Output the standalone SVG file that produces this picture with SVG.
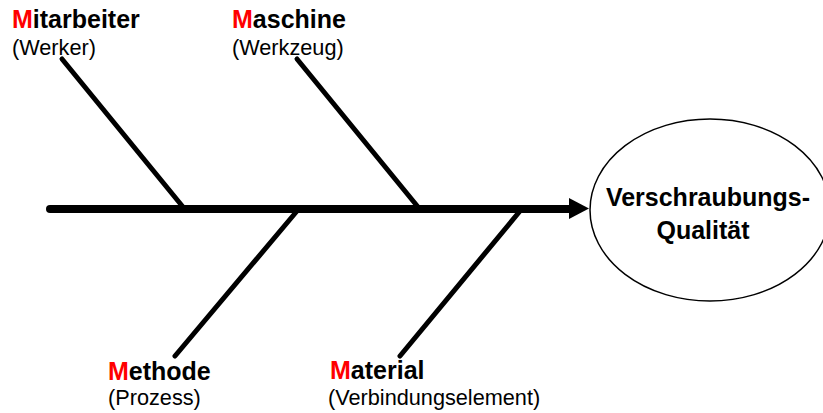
<svg xmlns="http://www.w3.org/2000/svg" width="823" height="413" viewBox="0 0 823 413">
<style>
.t{font-family:"Liberation Sans",Arial,sans-serif;fill:#000}
.b{font-weight:bold;font-size:25px}
.r{font-size:21.7px}
.m{fill:#ff0000}
.bone{stroke:#000;stroke-width:5;stroke-linecap:round;fill:none}
</style>
<rect width="823" height="413" fill="#fff"/>
<g id="connectors">
<line x1="50" y1="209" x2="572" y2="209" stroke="#000" stroke-width="8" stroke-linecap="round"/>
<polygon points="569,198 589,208.5 569,219" fill="#000"/>
<line class="bone" x1="62" y1="59" x2="183" y2="207"/>
<line class="bone" x1="297" y1="59" x2="418" y2="207"/>
<line class="bone" x1="297" y1="211" x2="175" y2="356"/>
<line class="bone" x1="520" y1="211" x2="400" y2="356"/>
</g>
<g id="mitarbeiter">
<text class="t b" x="12" y="28"><tspan class="m">M</tspan>itarbeiter</text>
<text class="t r" x="12" y="55">(Werker)</text>
</g>
<g id="maschine">
<text class="t b" x="232" y="28"><tspan class="m">M</tspan>aschine</text>
<text class="t r" x="232" y="55">(Werkzeug)</text>
</g>
<g id="methode">
<text class="t b" x="108" y="380"><tspan class="m">M</tspan>ethode</text>
<text class="t r" x="108" y="405">(Prozess)</text>
</g>
<g id="material">
<text class="t b" x="330" y="379"><tspan class="m">M</tspan>aterial</text>
<text class="t r" x="328" y="405">(Verbindungselement)</text>
</g>
<g id="qualitaet">
<ellipse cx="710" cy="210" rx="120" ry="91" fill="#fff" stroke="#000" stroke-width="1.5"/>
<text class="t b" x="708" y="206" text-anchor="middle">Verschraubungs-</text>
<text class="t b" x="703" y="239" text-anchor="middle">Qualität</text>
</g>
</svg>
